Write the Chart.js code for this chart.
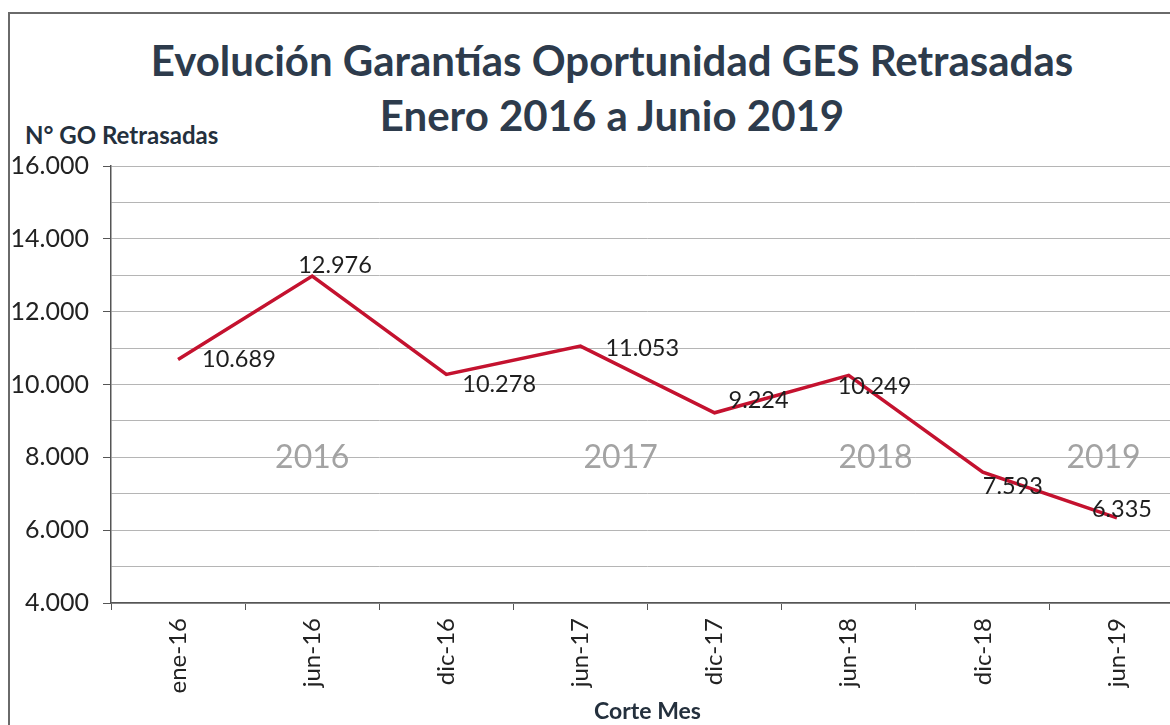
<!DOCTYPE html>
<html lang="es">
<head>
    <meta charset="UTF-8">
    <title>Evolución Garantías Oportunidad GES Retrasadas</title>
    <script src="https://cdn.jsdelivr.net/npm/chart.js"></script>
    <style>
        html, body { margin: 0; padding: 0; background: #fff; overflow: hidden; }
        body { width: 1170px; height: 725px; position: relative; font-family: Lato, "Open Sans", sans-serif; }
        #frame { position: absolute; left: 8px; top: 12px; width: 1200px; height: 800px; border: 2px solid #6a6a6a; }
        #title { position: absolute; left: 0; top: 33px; width: 1224px; text-align: center; font-weight: bold; font-size: 42px; line-height: 55px; color: #2d3b4c; }
        #ytitle { position: absolute; left: 25px; top: 120px; font-weight: bold; font-size: 24px; line-height: 30px; color: #24303d; }
        #wrap { position: absolute; left: 0; top: 137px; width: 1190px; height: 588px; }
    </style>
</head>
<body>
    <div id="frame"></div>
    <div id="title">Evolución Garantías Oportunidad GES Retrasadas<br>Enero 2016 a Junio 2019</div>
    <div id="ytitle">N° GO Retrasadas</div>
    <div id="wrap"><canvas id="chart"></canvas></div>

    <script>
        const months = ["ene-16", "jun-16", "dic-16", "jun-17", "dic-17", "jun-18", "dic-18", "jun-19"];
        const retrasadas = [10689, 12976, 10278, 11053, 9224, 10249, 7593, 6335];
        const years = ["2016", "2017", "2018", "2019"];
        const yearAt = [1, 3.3, 5.2, 6.9];

        // where each value label sits relative to its point (left edge dx, middle dy)
        const labelOffsets = [[24, 0], [-14, -11], [16, 10], [25, 2], [14, -12], [-11, 11], [0, 14], [-25, -9]];

        const fmt = n => n.toString().replace(/\B(?=(\d{3})+(?!\d))/g, ".");

        const labelsPlugin = {
            id: "labels",
            afterDatasetsDraw(chart) {
                const ctx = chart.ctx;
                const x = chart.scales.x, y = chart.scales.y;
                ctx.save();
                ctx.textBaseline = "middle";
                // year watermarks
                ctx.font = "32px Lato, sans-serif";
                ctx.fillStyle = "#a3a3a3";
                ctx.textAlign = "center";
                years.forEach((yr, i) => {
                    ctx.fillText(yr, x.getPixelForValue(yearAt[i]), y.getPixelForValue(8000));
                });
                // value labels
                ctx.font = "23.5px Lato, sans-serif";
                ctx.fillStyle = "#1e1e1e";
                ctx.textAlign = "left";
                chart.getDatasetMeta(0).data.forEach((pt, i) => {
                    const off = labelOffsets[i];
                    ctx.fillText(fmt(retrasadas[i]), pt.x + off[0], pt.y + off[1]);
                });
                ctx.restore();
            }
        };

        new Chart(document.getElementById("chart"), {
            type: "line",
            data: {
                labels: months,
                datasets: [{
                    data: retrasadas,
                    borderColor: "#c4122f",
                    borderWidth: 3.5,
                    pointRadius: 0,
                    tension: 0
                }]
            },
            options: {
                responsive: true,
                maintainAspectRatio: false,
                animation: false,
                layout: { padding: { top: 17, right: 6, left: 0, bottom: 0 } },
                plugins: {
                    legend: { display: false },
                    tooltip: { enabled: false }
                },
                scales: {
                    x: {
                        offset: true,
                        afterFit: s => { s.height = 122; },
                        border: { color: "#555", width: 1.5 },
                        grid: { offset: true, drawOnChartArea: false, tickLength: 7, tickColor: "#555" },
                        ticks: { minRotation: 90, maxRotation: 90, color: "#222", font: { family: "Lato", size: 24 }, padding: 8 },
                        title: { display: true, text: "Corte Mes", color: "#24303d", font: { family: "Lato", size: 23, weight: "bold" }, padding: { top: 0, bottom: 0 } }
                    },
                    y: {
                        min: 4000,
                        max: 16000,
                        afterFit: s => { s.width = 111; },
                        border: { color: "#555", width: 1.5 },
                        grid: {
                            color: "#b5b5b5",
                            tickLength: 8,
                            tickColor: c => (c.tick.value % 2000 === 0 ? "#555" : "rgba(0,0,0,0)")
                        },
                        ticks: {
                            stepSize: 1000,
                            color: "#222",
                            font: { family: "Lato", size: 25 },
                            padding: 14,
                            callback: v => (v % 2000 === 0 ? fmt(v) : "")
                        }
                    }
                }
            },
            plugins: [labelsPlugin]
        });
    </script>
</body>
</html>
